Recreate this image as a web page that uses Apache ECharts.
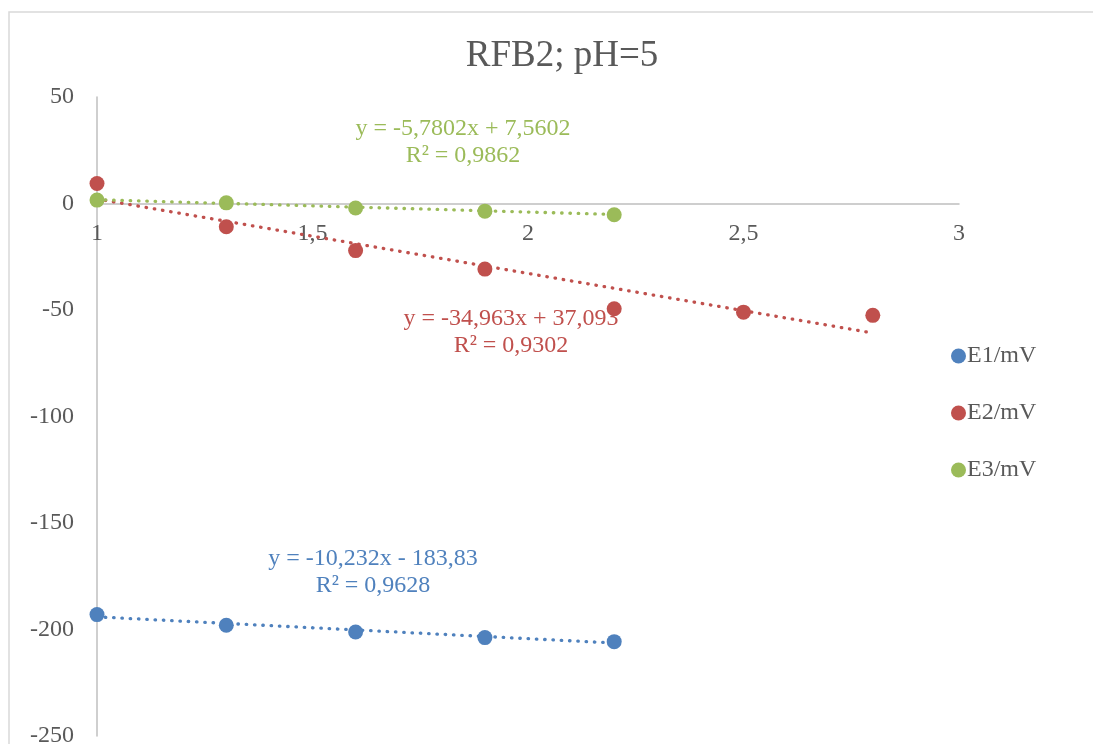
<!DOCTYPE html>
<html>
<head>
<meta charset="utf-8">
<script src="https://cdn.jsdelivr.net/npm/echarts@6/dist/echarts.min.js"></script>
<style>html,body{margin:0;padding:0;background:#fff}#c{width:1093px;height:744px}</style>
</head>
<body>
<div id="c"></div>
<script>
// ---- data ----
const titleText = 'RFB2; pH=5';
const seriesNames = ['E1/mV', 'E2/mV', 'E3/mV'];
const xE1 = [1, 1.3, 1.6, 1.9, 2.2];
const yE1 = [-193.0, -198.0, -201.2, -203.8, -205.7];
const xE2 = [1, 1.3, 1.6, 1.9, 2.2, 2.5, 2.8];
const yE2 = [9.4, -10.9, -22.1, -30.8, -49.4, -51.0, -52.5];
const xE3 = [1, 1.3, 1.6, 1.9, 2.2];
const yE3 = [1.6, 0.3, -2.1, -3.6, -5.3];
// trendline coefficients (slope, intercept) as printed on the chart
const trendSlope = [-10.232, -34.963, -5.7802];
const trendIntercept = [-183.83, 37.093, 7.5602];
const trendEq = ['y = -10,232x - 183,83', 'y = -34,963x + 37,093', 'y = -5,7802x + 7,5602'];
const trendR2 = ['0,9628', '0,9302', '0,9862'];
const xTicks = [1, 1.5, 2, 2.5, 3];
const yTicks = [-250, -200, -150, -100, -50, 0, 50];

// ---- chart ----
const colors = ['#4F81BD', '#C0504D', '#9BBB59'];
const FONT = '"Liberation Serif", "DejaVu Serif", serif';
const xs = [xE1, xE2, xE3];
const ys = [yE1, yE2, yE3];

const scatterSeries = seriesNames.map((n, i) => ({
  name: n, type: 'scatter', symbol: 'circle', symbolSize: 15, z: 3,
  itemStyle: { color: colors[i], opacity: 1 },
  data: xs[i].map((x, k) => [x, ys[i][k]])
}));
const trendSeries = seriesNames.map((n, i) => {
  const x0 = xs[i][0], x1 = xs[i][xs[i].length - 1];
  return {
    name: n + ' trend', type: 'line', symbol: 'none', silent: true, z: 2,
    lineStyle: { color: colors[i], width: 3.3, type: [0.5, 7.8], cap: 'round' },
    data: [[x0, trendSlope[i] * x0 + trendIntercept[i]], [x1, trendSlope[i] * x1 + trendIntercept[i]]]
  };
});

const labelPos = [[373, 545], [511, 305], [463, 115]];
const graphics = [{
  type: 'rect', x: 9, y: 12, silent: true,
  shape: { width: 1200, height: 900 },
  style: { fill: 'none', stroke: '#D9D9D9', lineWidth: 1.5 }
}];
labelPos.forEach((p, i) => {
  graphics.push({
    type: 'text', silent: true, x: p[0], y: p[1],
    style: {
      text: trendEq[i] + '\nR² = ' + trendR2[i],
      font: '24px ' + FONT, fill: colors[i], align: 'center', verticalAlign: 'top', lineHeight: 27
    }
  });
});

const chart = echarts.init(document.getElementById('c'), null, { renderer: 'canvas' });
const option = {
  animation: false,
  color: colors,
  title: {
    text: titleText, left: 557, top: 33, textAlign: 'center',
    textStyle: { fontFamily: FONT, fontSize: 37, fontWeight: 'normal', color: '#595959' }
  },
  legend: {
    data: seriesNames, orient: 'vertical', left: 946, top: 339, itemGap: 33,
    itemWidth: 15, itemHeight: 15, icon: 'circle',
    textStyle: { fontFamily: FONT, fontSize: 24, color: '#595959', padding: [0, 0, 0, -4] }
  },
  grid: { left: 97, right: 134, top: 97, bottom: 8, containLabel: false, outerBoundsMode: 'none' },
  xAxis: {
    type: 'value', min: 1, max: 3, interval: 0.5, position: 'bottom', offset: 0,
    axisLine: { onZero: false, lineStyle: { color: '#BFBFBF', width: 1.5 } },
    axisTick: { show: false }, splitLine: { show: false },
    axisLabel: { fontFamily: FONT, fontSize: 24, color: '#595959', margin: 18,
      formatter: v => String(v).replace('.', ',') }
  },
  yAxis: {
    type: 'value', min: -250, max: 50, interval: 50,
    axisLine: { show: true, onZero: false, lineStyle: { color: '#BFBFBF', width: 1.5 } },
    axisTick: { show: false }, splitLine: { show: false },
    axisLabel: { fontFamily: FONT, fontSize: 24, color: '#595959', margin: 23 }
  },
  graphic: graphics,
  series: [...trendSeries, ...scatterSeries]
};
chart.setOption(option);
// move the x axis up so it crosses the y axis at 0
const zeroY = chart.convertToPixel({ yAxisIndex: 0 }, 0);
const minY = chart.convertToPixel({ yAxisIndex: 0 }, -250);
chart.setOption({ xAxis: { offset: zeroY - minY } });
</script>
</body>
</html>
